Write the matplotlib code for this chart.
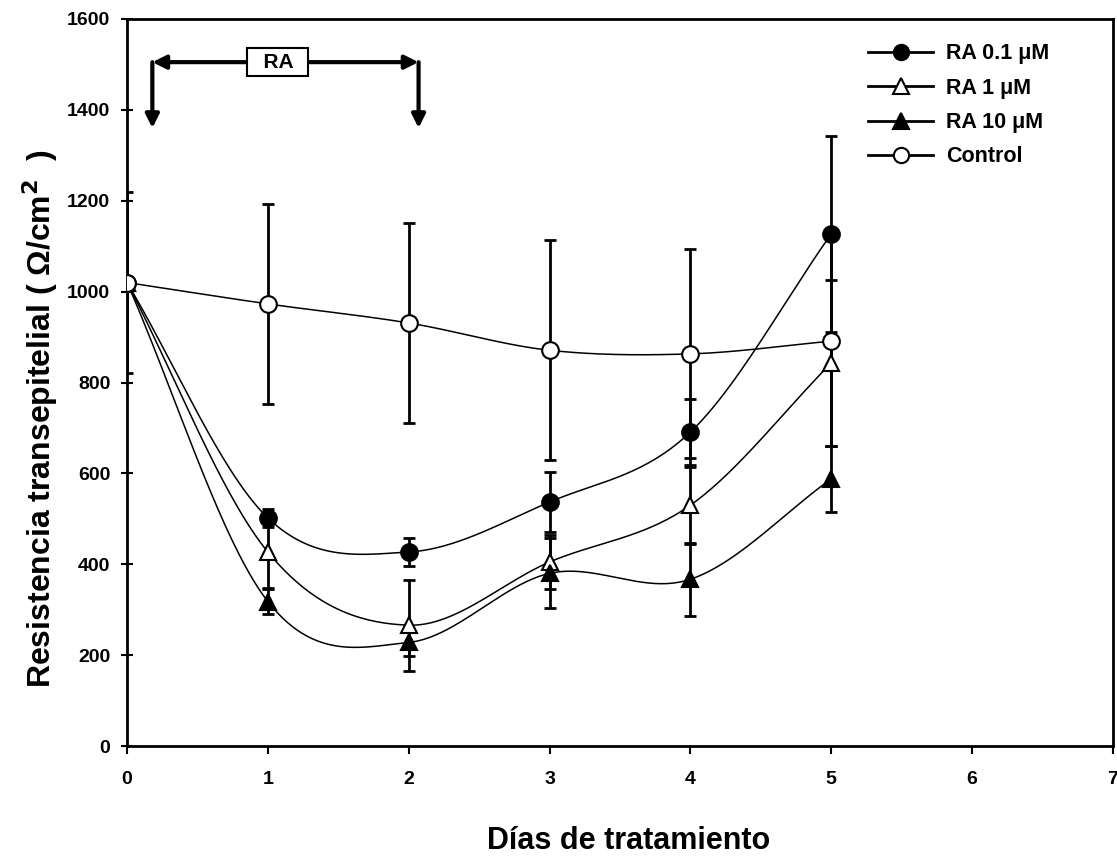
import numpy as np
import matplotlib
matplotlib.use("Agg")
import matplotlib.pyplot as plt
from matplotlib.lines import Line2D

plt.rcParams['font.family'] = ['Liberation Sans', 'DejaVu Sans']
plt.rcParams['font.weight'] = 'bold'

# Data
dias = [0, 1, 2, 3, 4, 5]
ra01 = [1020, 502, 427, 537, 691, 1127]
ra01_err = [0, 20, 30, 65, 72, 215]
ra1 = [1020, 427, 266, 405, 530, 843]
ra1_err = [0, 80, 100, 60, 85, 182]
ra10 = [1020, 318, 228, 380, 367, 588]
ra10_err = [0, 28, 30, 77, 80, 72]
control = [1020, 973, 931, 871, 863, 891]
control_err = [200, 220, 220, 242, 230, 230]

labels = ["RA 0.1 \u03bcM", "RA 1 \u03bcM", "RA 10 \u03bcM", "Control"]


def smooth(x, y, n=60):
    # Catmull-Rom curve through the points (only for drawing the line)
    x = np.asarray(x, float)
    y = np.asarray(y, float)
    m = np.zeros(len(x))
    m[1:-1] = (y[2:] - y[:-2]) / (x[2:] - x[:-2])
    m[0] = (y[1] - y[0]) / (x[1] - x[0])
    m[-1] = (y[-1] - y[-2]) / (x[-1] - x[-2])
    xs_all, ys_all = [], []
    for i in range(len(x) - 1):
        h = x[i + 1] - x[i]
        t = np.linspace(0, 1, n)
        h00 = 2 * t ** 3 - 3 * t ** 2 + 1
        h10 = t ** 3 - 2 * t ** 2 + t
        h01 = -2 * t ** 3 + 3 * t ** 2
        h11 = t ** 3 - t ** 2
        xs_all.append(x[i] + t * h)
        ys_all.append(h00 * y[i] + h10 * h * m[i] + h01 * y[i + 1] + h11 * h * m[i + 1])
    return np.concatenate(xs_all), np.concatenate(ys_all)


fig = plt.figure(figsize=(11.17, 8.59), dpi=100)
ax = fig.add_axes([0.1137, 0.1315, 0.8827, 0.8464])

series = [
    (ra01, ra01_err, 'o', 'black'),
    (ra1, ra1_err, '^', 'white'),
    (ra10, ra10_err, '^', 'black'),
    (control, control_err, 'o', 'white'),
]

handles = []
for (vals, err, mk, fc), lab in zip(series, labels):
    xs, ys = smooth(dias, vals)
    ax.plot(xs, ys, color='black', lw=1.1, zorder=2)
    ax.errorbar(dias, vals, yerr=err, fmt='none', ecolor='black',
                elinewidth=2, capsize=4.5, capthick=2, zorder=3)
    ax.plot(dias, vals, linestyle='none', marker=mk, markersize=12,
            markerfacecolor=fc, markeredgecolor='black', markeredgewidth=1.5,
            zorder=4)
    handles.append(Line2D([], [], color='black', lw=2, marker=mk,
                          markersize=11, markerfacecolor=fc,
                          markeredgecolor='black', markeredgewidth=1.5,
                          label=lab))

ax.set_xlim(0, 7)
ax.set_ylim(0, 1600)
ax.set_xticks(range(0, 8))
ax.set_yticks(range(0, 1601, 200))
for s in ax.spines.values():
    s.set_linewidth(2)
ax.tick_params(axis='y', direction='inout', length=8, width=1.5,
               labelsize=14, pad=8)
ax.tick_params(axis='x', direction='out', length=6, width=1.5,
               labelsize=14, pad=12)

ax.set_xlabel("D\u00edas de tratamiento", fontsize=22, fontweight='bold')
ax.xaxis.set_label_coords(0.509, -0.11)
ax.set_ylabel("Resistencia transepitelial ( \u03a9/cm$^\\mathbf{2}$  )",
              fontsize=23, fontweight='bold')
ax.yaxis.set_label_coords(-0.068, 0.45)

# RA treatment bracket
arrow = dict(arrowstyle='-|>', color='black', lw=3, mutation_scale=20,
             shrinkA=0, shrinkB=0)
ax.annotate('', xy=(0.18, 1505), xytext=(1.07, 1505), arrowprops=arrow)
ax.annotate('', xy=(2.07, 1505), xytext=(1.07, 1505), arrowprops=arrow)
ax.annotate('', xy=(0.18, 1360), xytext=(0.18, 1505), arrowprops=arrow)
ax.annotate('', xy=(2.07, 1360), xytext=(2.07, 1505), arrowprops=arrow)
ax.text(1.07, 1505, "  RA  ", ha='center', va='center', fontsize=15,
        fontweight='bold',
        bbox=dict(boxstyle='square,pad=0.2', facecolor='white',
                  edgecolor='black', lw=1.5))

ax.legend(handles=handles, loc='upper right', bbox_to_anchor=(0.955, 0.993),
          frameon=False, fontsize=15.5, handlelength=3.0, labelspacing=0.62,
          handletextpad=0.6)

plt.savefig('out.png', dpi=100)
